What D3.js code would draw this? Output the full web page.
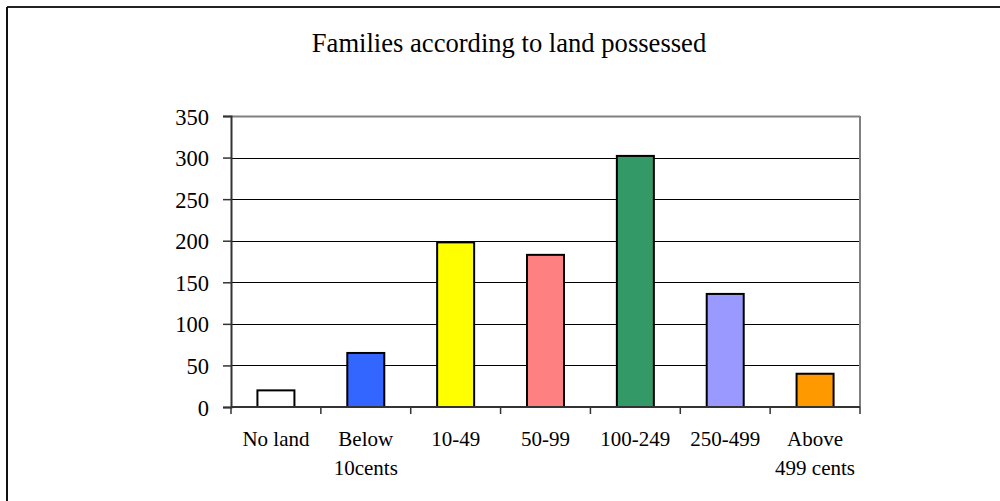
<!DOCTYPE html>
<html>
<head>
<meta charset="utf-8">
<script src="https://cdn.jsdelivr.net/npm/d3@7/dist/d3.min.js"></script>
<style>
  html, body { margin: 0; padding: 0; background: #fff; }
  svg { display: block; }
  text { font-family: "Liberation Serif", "Times New Roman", serif; fill: #000; }
</style>
</head>
<body>
<svg id="chart" width="1000" height="501"></svg>
<script>
const categories = ["No land", "Below\n10cents", "10-49", "50-99", "100-249", "250-499", "Above\n499 cents"];
const values = [20, 65, 198, 183, 302, 136, 40];
const colors = ["#FFFFFF", "#3366FF", "#FFFF00", "#FF8080", "#339966", "#9999FF", "#FF9900"];
const yTicks = [0, 50, 100, 150, 200, 250, 300, 350];
const title = "Families according to land possessed";

const svg = d3.select("#chart");
const W = 1000, H = 501;
const m = { left: 231, right: 860, top: 116, bottom: 407 };

// outer frame (top and left edges)
svg.append("line").attr("x1", 7).attr("x2", W).attr("y1", 7).attr("y2", 7)
  .attr("stroke", "#222").attr("stroke-width", 2);
svg.append("line").attr("x1", 7).attr("x2", 7).attr("y1", 7).attr("y2", H)
  .attr("stroke", "#111").attr("stroke-width", 2);

svg.append("text").attr("x", 509).attr("y", 52).attr("text-anchor", "middle")
  .style("font-size", "26.6px").text(title);

const x = d3.scaleBand().domain(categories).range([m.left, m.right]).paddingInner(0).paddingOuter(0);
const y = d3.scaleLinear().domain([0, 350]).range([m.bottom, m.top]);

// gridlines
svg.append("g").selectAll("line").data(yTicks.filter(t => t > 0 && t < 350)).join("line")
  .attr("x1", m.left).attr("x2", m.right)
  .attr("y1", d => Math.round(y(d)) + 0.5).attr("y2", d => Math.round(y(d)) + 0.5)
  .attr("stroke", "#000").attr("stroke-width", 1);

// plot border top & right
svg.append("line").attr("x1", m.left).attr("x2", m.right).attr("y1", m.top + 0.5).attr("y2", m.top + 0.5)
  .attr("stroke", "#808080").attr("stroke-width", 2);
svg.append("line").attr("x1", m.right).attr("x2", m.right).attr("y1", m.top).attr("y2", m.bottom)
  .attr("stroke", "#808080").attr("stroke-width", 2);

// bars
const bw = 37;
svg.append("g").selectAll("rect").data(values).join("rect")
  .attr("x", (d, i) => x(categories[i]) + x.bandwidth() / 2 - bw / 2)
  .attr("width", bw)
  .attr("y", d => y(d))
  .attr("height", d => y(0) - y(d))
  .attr("fill", (d, i) => colors[i])
  .attr("stroke", "#000").attr("stroke-width", 2);

// y axis
const yAxis = d3.axisLeft(y).tickValues(yTicks).tickSize(8).tickPadding(14).tickFormat(d3.format("d"));
const gy = svg.append("g").attr("transform", `translate(${m.left},0)`).call(yAxis);
gy.select(".domain").attr("stroke", "#333").attr("stroke-width", 2);
gy.selectAll(".tick line").attr("stroke", "#333").attr("stroke-width", 1.5);
gy.selectAll(".tick text").style("font-size", "22.5px").attr("dy", "0.36em")
  .style("font-family", '"Liberation Serif", serif').attr("fill", "#000");

// x axis
const boundaries = d3.range(categories.length + 1).map(i => m.left + i * x.bandwidth());
const gx = svg.append("g");
gx.append("line").attr("x1", m.left).attr("x2", m.right).attr("y1", m.bottom).attr("y2", m.bottom)
  .attr("stroke", "#333").attr("stroke-width", 2);
gx.selectAll("line.tk").data(boundaries).join("line").attr("class", "tk")
  .attr("x1", d => d).attr("x2", d => d).attr("y1", m.bottom).attr("y2", m.bottom + 7)
  .attr("stroke", "#333").attr("stroke-width", 1.5);

const labels = svg.append("g").selectAll("text").data(categories).join("text")
  .attr("text-anchor", "middle")
  .attr("x", d => x(d) + x.bandwidth() / 2)
  .attr("y", 446)
  .style("font-size", "21px");
labels.each(function(d) {
  const parts = d.split("\n");
  const t = d3.select(this);
  parts.forEach((p, i) => {
    t.append("tspan").attr("x", x(d) + x.bandwidth() / 2).attr("dy", i === 0 ? 0 : 29).text(p);
  });
});
</script>
</body>
</html>
